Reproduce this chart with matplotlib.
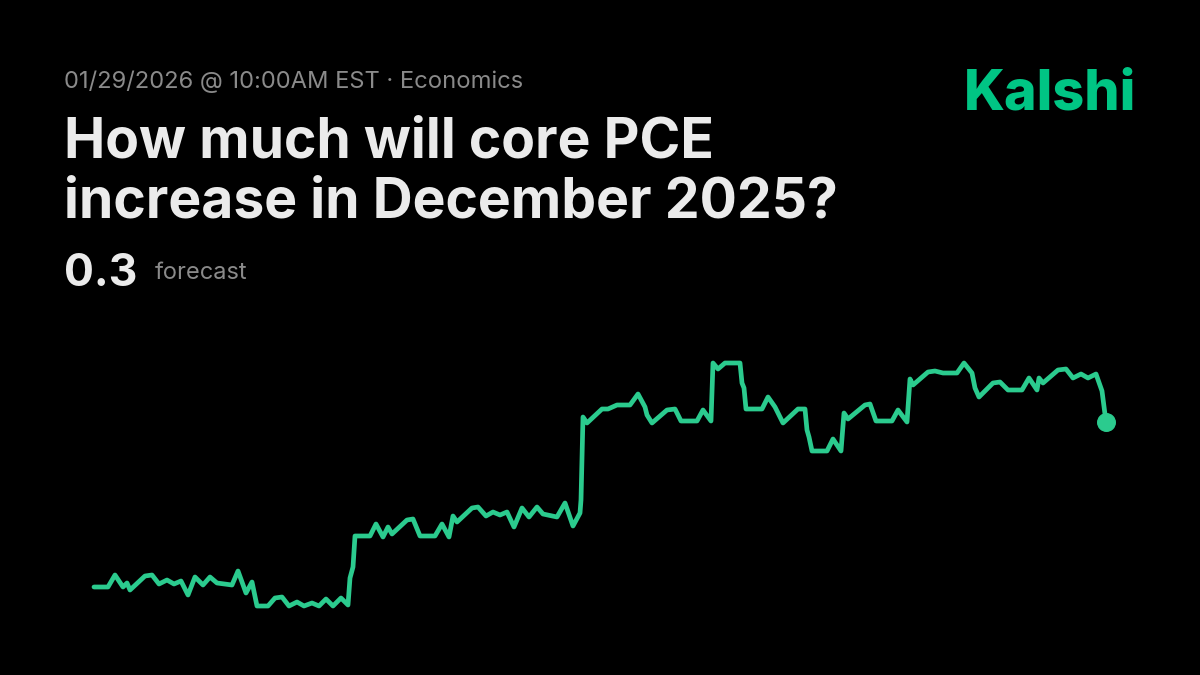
import matplotlib
matplotlib.use("Agg")
import matplotlib.pyplot as plt

# forecast history (hours since market open, forecast value in %)
hours = [0, 14, 21, 29, 33, 36, 51, 58, 65, 73, 80, 87, 94, 101, 109, 116, 123, 138, 144, 152,
         158, 163, 174, 181, 188, 195, 203, 210, 218, 225, 232, 239, 247, 254, 256, 259, 261,
         276, 282, 289, 294, 298, 313, 319, 326, 341, 348, 355, 359, 363, 378, 384, 392, 399, 406,
         413, 420, 428, 435, 443, 449, 463, 471, 479, 486, 487, 489,
         493, 508, 514, 523, 536, 544, 551, 553, 558, 573, 581, 587, 603, 609, 617, 619, 624, 631,
         646, 648, 650, 652, 668, 674, 681, 689, 704, 711, 713, 715, 718, 733, 739, 747, 750, 754,
         771, 776, 782, 798, 804, 813, 816, 819, 834, 841, 849, 863, 870, 878, 881, 885, 899, 906,
         914, 928, 935, 943, 945, 949, 964, 972, 979, 987, 994, 1002, 1008, 1012]
forecast = [0.2175, 0.2175, 0.2235, 0.2175, 0.2195, 0.216, 0.223, 0.2235, 0.219, 0.221, 0.219,
            0.2205, 0.2135, 0.2225, 0.2185, 0.2225, 0.2195, 0.2185, 0.2255, 0.2145, 0.22, 0.208,
            0.208, 0.212, 0.2125, 0.208, 0.21, 0.208, 0.2095, 0.208, 0.2115, 0.208, 0.212, 0.2085,
            0.222, 0.2275, 0.243,
            0.243, 0.249, 0.2425, 0.2475, 0.244, 0.251, 0.2515, 0.243, 0.243, 0.249, 0.2425, 0.253,
            0.25, 0.257, 0.2575, 0.253, 0.255, 0.2535, 0.255, 0.2475, 0.257, 0.2525, 0.2575, 0.254,
            0.2525, 0.2595, 0.248, 0.2545, 0.261, 0.3025,
            0.2995, 0.3065, 0.3065, 0.3085, 0.3085, 0.314, 0.3075, 0.3035, 0.2995, 0.306,
            0.3065, 0.3005, 0.3005, 0.306, 0.3005, 0.3295, 0.3265, 0.3295, 0.3295, 0.3195,
            0.317, 0.3065, 0.3065, 0.3125, 0.3075, 0.2995, 0.3065, 0.3065, 0.296, 0.2925,
            0.2855, 0.2855, 0.2915, 0.2855, 0.3045, 0.3015, 0.3085, 0.309, 0.3005, 0.3005,
            0.306, 0.30, 0.3215, 0.3185, 0.325, 0.3255, 0.3245, 0.3245, 0.3295, 0.3245,
            0.317, 0.3125, 0.3195, 0.32, 0.316, 0.316, 0.322, 0.316, 0.322, 0.3195,
            0.326, 0.3265, 0.322, 0.324, 0.322, 0.324, 0.3155, 0.30]

date_label = "01/29/2026 @ 10:00AM EST · Economics"
title_lines = ["How much will core PCE", "increase in December 2025?"]
current_value = "0.3"

W, H = 1200, 675
fig = plt.figure(figsize=(12, 6.75), dpi=100, facecolor="black")
plt.rcParams['font.family'] = ['Inter', 'DejaVu Sans']

def fx(px):
    return px / W

def fy(py):
    return 1 - py / H

green = "#2BCB8E"

# zone du graphique : x 94..1106 px, y 350..620 px
ax = fig.add_axes([fx(94), fy(620), fx(1012), 270 / H])
ax.set_facecolor("black")
ax.plot(hours, forecast, color=green, lw=3.4, solid_joinstyle="round",
        solid_capstyle="round", clip_on=False)
ax.scatter([hours[-1]], [forecast[-1]], s=160, color=green, zorder=3, clip_on=False)
ax.set_xlim(0, 1012)
ax.set_ylim(0.30 + (422 - 620) / 2000, 0.30 + (422 - 350) / 2000)
ax.axis("off")

# textes
fig.text(fx(64), fy(88), date_label, color="#8A8A8A", fontsize=17.1, va="baseline")
fig.text(fx(64), fy(157), title_lines[0], color="#EBEBEB", fontsize=39.8,
         fontweight="bold", va="baseline")
fig.text(fx(64), fy(217), title_lines[1], color="#EBEBEB", fontsize=39.8,
         fontweight="bold", va="baseline")
fig.text(fx(64), fy(286), current_value, color="#EBEBEB", fontsize=32,
         fontweight="bold", va="baseline")
fig.text(fx(155), fy(279), "forecast", color="#8A8A8A", fontsize=17, va="baseline")
fig.text(fx(1136), fy(109), "Kalshi", color="#00C584", fontsize=40,
         fontweight="heavy", va="baseline", ha="right")

fig.savefig("out.png", dpi=100, facecolor="black")
